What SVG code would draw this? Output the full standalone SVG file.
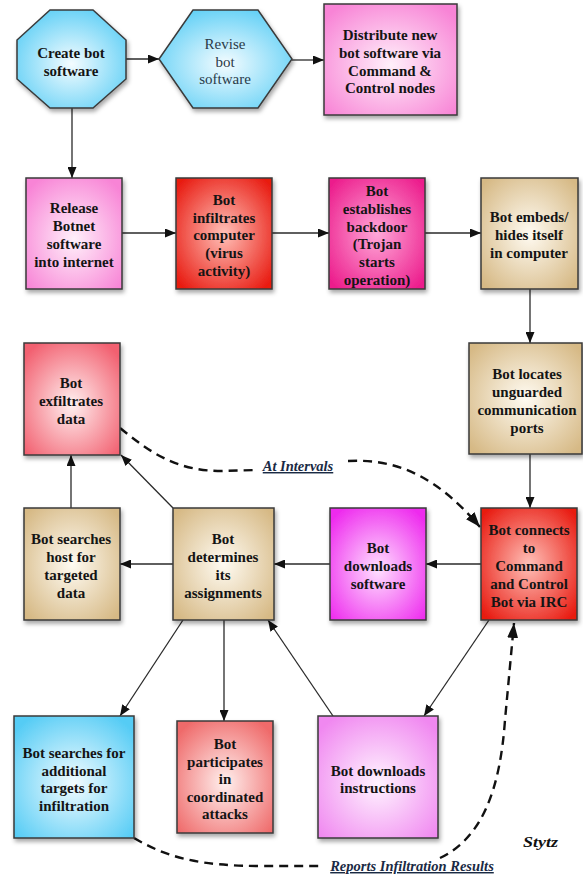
<svg xmlns="http://www.w3.org/2000/svg" width="583" height="875" viewBox="0 0 583 875">
<style>
.n{stroke:#3a3a3a;stroke-width:1.5;filter:url(#sh)}
.t{font-family:"Liberation Serif","Times New Roman",serif;font-size:15px;font-weight:bold;fill:#141414;text-anchor:middle}
.tr{font-weight:normal;fill:#2a3a48}
.c{fill:none;stroke:#2a2a2a;stroke-width:1.3}
.d{fill:none;stroke:#111;stroke-width:2.4;stroke-dasharray:9,6}
.lb{font-family:"Liberation Serif","Times New Roman",serif;font-size:14.5px;font-style:italic;font-weight:bold;fill:#1a2a44;text-anchor:middle;text-decoration:underline}
.sig{font-family:"Liberation Serif",serif;font-size:14px;font-weight:bold;font-style:italic;fill:#111}
</style>
<defs>
<filter id="sh" x="-20%" y="-20%" width="150%" height="150%"><feDropShadow dx="1.5" dy="3" stdDeviation="2" flood-color="#000" flood-opacity="0.35"/></filter>
<marker id="a" markerUnits="userSpaceOnUse" markerWidth="11" markerHeight="9" refX="11" refY="4.5" orient="auto"><path d="M0,0 L11,4.5 L0,9 z" fill="#111"/></marker>
<marker id="ab" markerUnits="userSpaceOnUse" markerWidth="15" markerHeight="11" refX="15" refY="5.5" orient="auto"><path d="M0,0 L15,5.5 L0,11 z" fill="#111"/></marker>
<radialGradient id="gBlue" cx="50%" cy="55%" r="65%"><stop offset="0" stop-color="#f4fcff"/><stop offset="1" stop-color="#55ccf5"/></radialGradient>
<radialGradient id="gPink" cx="50%" cy="55%" r="65%"><stop offset="0" stop-color="#fff0fa"/><stop offset="1" stop-color="#f884d6"/></radialGradient>
<radialGradient id="gRed" cx="50%" cy="50%" r="65%"><stop offset="0" stop-color="#ffc0b8"/><stop offset="1" stop-color="#e81a10"/></radialGradient>
<radialGradient id="gDeep" cx="50%" cy="50%" r="65%"><stop offset="0" stop-color="#ffa8d8"/><stop offset="1" stop-color="#ec1c8c"/></radialGradient>
<radialGradient id="gTan" cx="50%" cy="50%" r="65%"><stop offset="0" stop-color="#fffbf2"/><stop offset="1" stop-color="#d6b985"/></radialGradient>
<radialGradient id="gSalmon" cx="50%" cy="55%" r="65%"><stop offset="0" stop-color="#fff0f0"/><stop offset="1" stop-color="#f26070"/></radialGradient>
<radialGradient id="gMag" cx="50%" cy="55%" r="65%"><stop offset="0" stop-color="#ffe0ff"/><stop offset="1" stop-color="#ee2cee"/></radialGradient>
<radialGradient id="gRose" cx="50%" cy="55%" r="65%"><stop offset="0" stop-color="#fff0ee"/><stop offset="1" stop-color="#ef6a6a"/></radialGradient>
<radialGradient id="gLilac" cx="50%" cy="55%" r="65%"><stop offset="0" stop-color="#fff4ff"/><stop offset="1" stop-color="#f088f0"/></radialGradient>
</defs>
<g id="connectors">
<path class="c" d="M126,59 L159,59" marker-end="url(#a)"/>
<path class="c" d="M292,60 L324,60" marker-end="url(#a)"/>
<path class="c" d="M72,108 L72,178" marker-end="url(#a)"/>
<path class="c" d="M122,233 L176,233" marker-end="url(#a)"/>
<path class="c" d="M272,233 L329,233" marker-end="url(#a)"/>
<path class="c" d="M425,233 L481,233" marker-end="url(#a)"/>
<path class="c" d="M530,289 L530,343" marker-end="url(#a)"/>
<path class="c" d="M530,454 L530,508" marker-end="url(#a)"/>
<path class="c" d="M481,564 L426,564" marker-end="url(#a)"/>
<path class="c" d="M330,564 L274,564" marker-end="url(#a)"/>
<path class="c" d="M173,564 L120,564" marker-end="url(#a)"/>
<path class="c" d="M71,508 L71,455" marker-end="url(#a)"/>
<path class="c" d="M173,508 L121,455" marker-end="url(#a)"/>
<path class="c" d="M183,620 L120,716" marker-end="url(#a)"/>
<path class="c" d="M224,620 L224,721" marker-end="url(#a)"/>
<path class="c" d="M333,716 L268,620" marker-end="url(#a)"/>
<path class="c" d="M489,620 L424,716" marker-end="url(#a)"/>
<path class="d" d="M120,428 C150,452 175,471 222,471 L256,470"/>
<path class="d" d="M348,461 C400,458 440,480 480,527" marker-end="url(#ab)"/>
<text class="lb" x="298" y="471">At Intervals</text>
<path class="d" d="M134,838 C168,858 200,866 262,866 L322,866"/>
<path class="d" d="M440,858 C482,838 500,790 505,720 L514,623" marker-end="url(#ab)"/>
<text class="lb" x="412" y="871">Reports Infiltration Results</text>
</g>
<g id="create">
<polygon class="n" fill="url(#gBlue)" points="50,10 93,10 126,40 126,79 93,108 50,108 17,79 17,40"/>
<text class="t" x="71" y="58">Create bot</text><text class="t" x="71" y="76">software</text>
</g>
<g id="revise">
<polygon class="n" fill="url(#gBlue)" points="193,10 258,10 292,59 258,108 193,108 159,59"/>
<text class="t tr" x="225" y="49">Revise</text><text class="t tr" x="225" y="67">bot</text><text class="t tr" x="225" y="84">software</text>
</g>
<g id="distribute">
<rect class="n" fill="url(#gPink)" x="324" y="4" width="133" height="111"/>
<text class="t" x="390" y="40">Distribute new</text><text class="t" x="390" y="58">bot software via</text><text class="t" x="390" y="76">Command &amp;</text><text class="t" x="390" y="93">Control nodes</text>
</g>
<g id="release">
<rect class="n" fill="url(#gPink)" x="26" y="178" width="96" height="111"/>
<text class="t" x="74" y="213">Release</text><text class="t" x="74" y="231">Botnet</text><text class="t" x="74" y="249">software</text><text class="t" x="74" y="267">into internet</text>
</g>
<g id="infiltrates">
<rect class="n" fill="url(#gRed)" x="176" y="178" width="96" height="111"/>
<text class="t" x="224" y="205">Bot</text><text class="t" x="224" y="223">infiltrates</text><text class="t" x="224" y="240">computer</text><text class="t" x="224" y="258">(virus</text><text class="t" x="224" y="276">activity)</text>
</g>
<g id="backdoor">
<rect class="n" fill="url(#gDeep)" x="329" y="178" width="96" height="111"/>
<text class="t" x="377" y="196">Bot</text><text class="t" x="377" y="214">establishes</text><text class="t" x="377" y="232">backdoor</text><text class="t" x="377" y="249">(Trojan</text><text class="t" x="377" y="267">starts</text><text class="t" x="377" y="285">operation)</text>
</g>
<g id="embeds">
<rect class="n" fill="url(#gTan)" x="481" y="178" width="97" height="111"/>
<text class="t" x="529" y="222">Bot embeds/</text><text class="t" x="529" y="240">hides itself</text><text class="t" x="529" y="258">in computer</text>
</g>
<g id="exfiltrates">
<rect class="n" fill="url(#gSalmon)" x="24" y="343" width="96" height="112"/>
<text class="t" x="71" y="388">Bot</text><text class="t" x="71" y="406">exfiltrates</text><text class="t" x="71" y="424">data</text>
</g>
<g id="locates">
<rect class="n" fill="url(#gTan)" x="469" y="343" width="113" height="111"/>
<text class="t" x="527" y="379">Bot locates</text><text class="t" x="527" y="397">unguarded</text><text class="t" x="527" y="415">communication</text><text class="t" x="527" y="433">ports</text>
</g>
<g id="searchhost">
<rect class="n" fill="url(#gTan)" x="24" y="508" width="96" height="112"/>
<text class="t" x="71" y="544">Bot searches</text><text class="t" x="71" y="562">host for</text><text class="t" x="71" y="580">targeted</text><text class="t" x="71" y="598">data</text>
</g>
<g id="determines">
<rect class="n" fill="url(#gTan)" x="173" y="508" width="101" height="112"/>
<text class="t" x="223" y="544">Bot</text><text class="t" x="223" y="562">determines</text><text class="t" x="223" y="580">its</text><text class="t" x="223" y="598">assignments</text>
</g>
<g id="downloadsw">
<rect class="n" fill="url(#gMag)" x="330" y="508" width="96" height="112"/>
<text class="t" x="378" y="553">Bot</text><text class="t" x="378" y="571">downloads</text><text class="t" x="378" y="589">software</text>
</g>
<g id="connects">
<rect class="n" fill="url(#gRed)" x="481" y="508" width="96" height="112"/>
<text class="t" x="529" y="535">Bot connects</text><text class="t" x="529" y="553">to</text><text class="t" x="529" y="571">Command</text><text class="t" x="529" y="589">and Control</text><text class="t" x="529" y="607">Bot via IRC</text>
</g>
<g id="searchadd">
<rect class="n" fill="url(#gBlue)" x="14" y="716" width="120" height="122"/>
<text class="t" x="74" y="758">Bot searches for</text><text class="t" x="74" y="776">additional</text><text class="t" x="74" y="793">targets for</text><text class="t" x="74" y="811">infiltration</text>
</g>
<g id="participates">
<rect class="n" fill="url(#gRose)" x="177" y="721" width="96" height="112"/>
<text class="t" x="225" y="749">Bot</text><text class="t" x="225" y="767">participates</text><text class="t" x="225" y="784">in</text><text class="t" x="225" y="802">coordinated</text><text class="t" x="225" y="819">attacks</text>
</g>
<g id="instructions">
<rect class="n" fill="url(#gLilac)" x="318" y="716" width="120" height="122"/>
<text class="t" x="378" y="776">Bot downloads</text><text class="t" x="378" y="793">instructions</text>
</g>
<text class="sig" x="523" y="847" textLength="35" lengthAdjust="spacingAndGlyphs">Stytz</text>
</svg>
